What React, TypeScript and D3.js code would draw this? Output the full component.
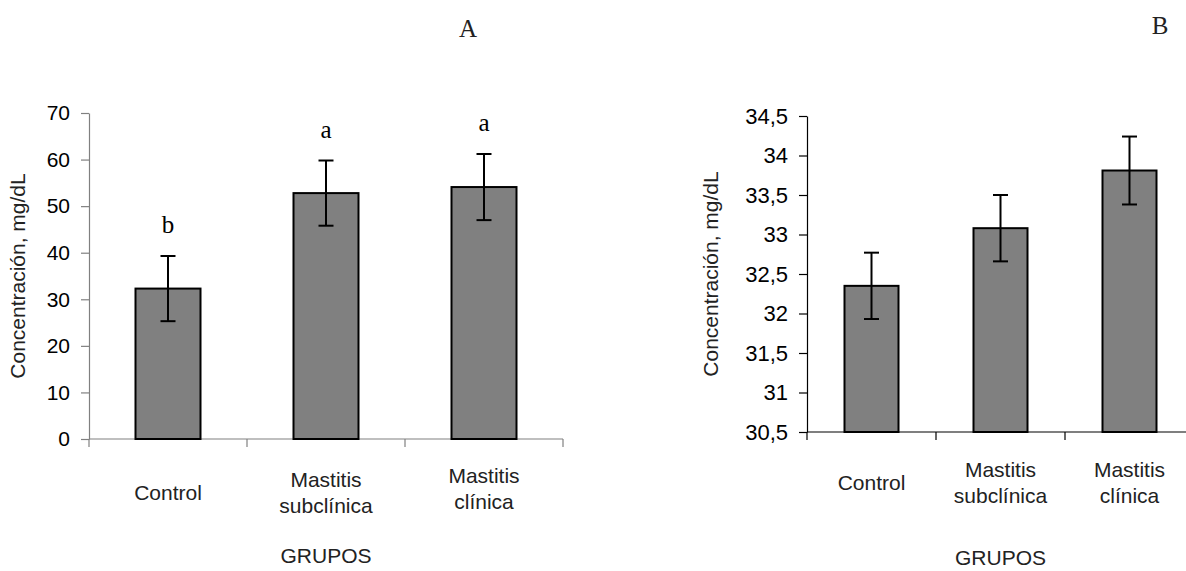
import React, { useRef, useEffect } from 'react';
import * as d3 from 'd3';

const categories = ['Control', 'Mastitis subclínica', 'Mastitis clínica'];
const labelLines = [['Control'], ['Mastitis', 'subclínica'], ['Mastitis', 'clínica']];

const meansA = [32.3, 52.8, 54.1];
const errorsA = [7.0, 7.0, 7.1];
const lettersA = ['b', 'a', 'a'];
const ticksA = [0, 10, 20, 30, 40, 50, 60, 70];

const meansB = [32.35, 33.08, 33.81];
const errorsB = [0.42, 0.42, 0.43];
const ticksB = [30.5, 31, 31.5, 32, 32.5, 33, 33.5, 34, 34.5];

const SANS = '"Liberation Sans", Arial, sans-serif';
const SERIF = '"Liberation Serif", "Times New Roman", serif';
const FS = 21;

type PanelOpts = {
  left: number;
  right: number;
  top: number;
  bottom: number;
  domain: [number, number];
  ticks: number[];
  tickFont: number;
  means: number[];
  errors: number[];
  letters?: string[];
  axisColor: string;
  barWidth: number;
  labelY: number[];
  labelShift: number[];
  grupoY: number;
  titleX: number;
  titleY: number;
  title: string;
  yTitleX: number;
  axisEnd: number;
};

function drawPanel(g: d3.Selection<SVGGElement, unknown, null, undefined>, o: PanelOpts) {
  const y = d3.scaleLinear().domain(o.domain).range([o.bottom, o.top]);
  const x = d3.scaleBand().domain(categories).range([o.left, o.right]);
  const fmt = (v: number) => String(v).replace('.', ',');

  // y axis
  const ya = g.append('g')
    .attr('transform', `translate(${o.left},0)`)
    .call(d3.axisLeft(y).tickValues(o.ticks).tickSize(8).tickSizeOuter(0).tickPadding(11).tickFormat(d => fmt(+d)));
  ya.select('.domain').attr('stroke', o.axisColor).attr('stroke-width', 1.2);
  ya.selectAll('.tick line').attr('stroke', o.axisColor).attr('stroke-width', 1.2);
  ya.selectAll('.tick text')
    .attr('font-family', SANS).attr('font-size', o.tickFont).attr('fill', '#000');

  // x axis line + category separators
  g.append('line')
    .attr('x1', o.left).attr('x2', o.axisEnd)
    .attr('y1', o.bottom).attr('y2', o.bottom)
    .attr('stroke', o.axisColor).attr('stroke-width', 1.2);
  const seps = [0, 1, 2].map(i => x(categories[i]) as number).concat([o.right]);
  g.selectAll('line.sep')
    .data(seps.filter(s => s <= o.axisEnd))
    .enter().append('line')
    .attr('class', 'sep')
    .attr('x1', d => d).attr('x2', d => d)
    .attr('y1', o.bottom).attr('y2', o.bottom + 8)
    .attr('stroke', o.axisColor).attr('stroke-width', 1.2);

  // bars
  const cx = (c: string) => (x(c) as number) + x.bandwidth() / 2;
  g.selectAll('rect.bar')
    .data(categories)
    .enter().append('rect')
    .attr('class', 'bar')
    .attr('x', d => cx(d) - o.barWidth / 2)
    .attr('width', o.barWidth)
    .attr('y', (d, i) => y(o.means[i]))
    .attr('height', (d, i) => o.bottom - y(o.means[i]))
    .attr('fill', '#808080')
    .attr('stroke', '#000')
    .attr('stroke-width', 2);

  // error bars
  const eb = g.selectAll('g.err').data(categories).enter().append('g');
  eb.append('line')
    .attr('x1', d => cx(d)).attr('x2', d => cx(d))
    .attr('y1', (d, i) => y(o.means[i] + o.errors[i]))
    .attr('y2', (d, i) => y(o.means[i] - o.errors[i]))
    .attr('stroke', '#000').attr('stroke-width', 2);
  [1, -1].forEach(s => {
    eb.append('line')
      .attr('x1', d => cx(d) - 7.5).attr('x2', d => cx(d) + 7.5)
      .attr('y1', (d, i) => y(o.means[i] + s * o.errors[i]))
      .attr('y2', (d, i) => y(o.means[i] + s * o.errors[i]))
      .attr('stroke', '#000').attr('stroke-width', 2);
  });

  // significance letters
  if (o.letters) {
    g.selectAll('text.letter')
      .data(categories)
      .enter().append('text')
      .attr('x', d => cx(d))
      .attr('y', (d, i) => y(o.means[i] + o.errors[i]) - 23)
      .attr('text-anchor', 'middle')
      .attr('font-family', SERIF).attr('font-size', 25)
      .text((d, i) => o.letters![i]);
  }

  // category labels
  categories.forEach((c, i) => {
    const lines = labelLines[i];
    const t = g.append('text')
      .attr('text-anchor', 'middle')
      .attr('font-family', SANS).attr('font-size', FS).attr('fill', '#222');
    lines.forEach((ln, k) => {
      t.append('tspan')
        .attr('x', cx(c))
        .attr('y', o.labelY[lines.length - 1] + o.labelShift[i] + k * 25.5)
        .text(ln);
    });
  });

  // axis titles
  g.append('text')
    .attr('x', (o.left + o.right) / 2).attr('y', o.grupoY)
    .attr('text-anchor', 'middle')
    .attr('font-family', SANS).attr('font-size', FS).attr('fill', '#222')
    .text('GRUPOS');
  g.append('text')
    .attr('transform', `translate(${o.yTitleX},${(o.top + o.bottom) / 2}) rotate(-90)`)
    .attr('text-anchor', 'middle')
    .attr('font-family', SANS).attr('font-size', FS).attr('fill', '#222')
    .text('Concentración, mg/dL');
  g.append('text')
    .attr('x', o.titleX).attr('y', o.titleY)
    .attr('text-anchor', 'middle')
    .attr('font-family', SERIF).attr('font-size', 25).attr('fill', '#222')
    .text(o.title);
}

const App = () => {
  const ref = useRef<SVGSVGElement>(null);

  useEffect(() => {
    const svg = d3.select(ref.current);
    svg.selectAll('*').remove();

    drawPanel(svg.append('g'), {
      left: 89, right: 563, top: 113, bottom: 439,
      domain: [0, 70], ticks: ticksA, tickFont: 21, means: meansA, errors: errorsA, letters: lettersA,
      axisColor: '#808080', barWidth: 65,
      labelY: [500, 487], labelShift: [0, 0, -4], grupoY: 563,
      titleX: 468, titleY: 37, title: 'A', yTitleX: 25, axisEnd: 563,
    });

    drawPanel(svg.append('g'), {
      left: 807, right: 1194, top: 116, bottom: 432,
      domain: [30.5, 34.5], ticks: ticksB, tickFont: 22, means: meansB, errors: errorsB,
      axisColor: '#000', barWidth: 54,
      labelY: [490, 477], labelShift: [0, 0, 0], grupoY: 565,
      titleX: 1160, titleY: 34, title: 'B', yTitleX: 718, axisEnd: 1186,
    });
  }, []);

  return (
    <svg ref={ref} width={1186} height={571} style={{ position: 'absolute', left: 0, top: 0, background: '#fff' }} />
  );
};

export default App;
